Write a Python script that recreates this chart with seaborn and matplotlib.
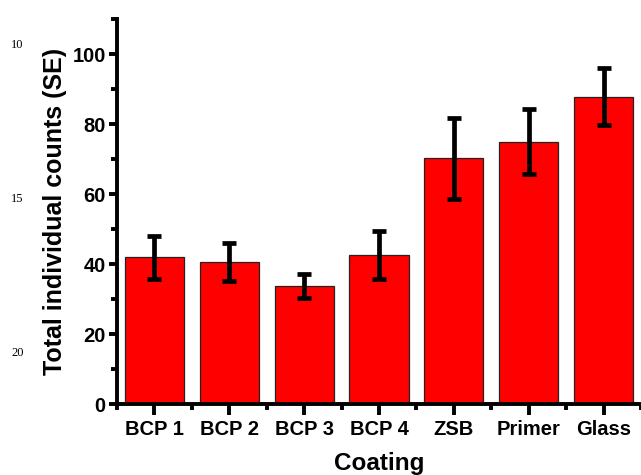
import matplotlib
matplotlib.use("Agg")
import matplotlib.pyplot as plt
from matplotlib.ticker import MultipleLocator, FixedLocator
import seaborn as sns
import pandas as pd

categories = ["BCP 1", "BCP 2", "BCP 3", "BCP 4", "ZSB", "Primer", "Glass"]
means = [42.0, 40.6, 33.8, 42.6, 70.2, 75.0, 87.8]
errors = [6.1, 5.4, 3.4, 6.8, 11.5, 9.2, 8.1]
yticks = [0, 20, 40, 60, 80, 100]
margin_numbers = ["10", "15", "20"]

sns.set_theme(style="ticks")
plt.rcParams["font.family"] = ["Liberation Sans", "DejaVu Sans"]
plt.rcParams["font.weight"] = "bold"
for k in ["text.color", "axes.labelcolor", "xtick.color", "ytick.color", "axes.edgecolor"]:
    plt.rcParams[k] = "black"

df = pd.DataFrame({"Coating": categories, "Count": means})

fig = plt.figure(figsize=(6.41, 4.75), dpi=100)
ax = fig.add_axes([0.1825, 0.149, 0.8175, 0.811])

sns.barplot(data=df, x="Coating", y="Count", color="#ff0000", saturation=1,
            edgecolor="#222222", linewidth=0.9, width=0.79, errorbar=None, ax=ax)
ax.errorbar(range(len(categories)), means, yerr=errors, fmt="none",
            ecolor="black", elinewidth=3.4, capsize=5, capthick=3.4,
            solid_capstyle="round", dash_capstyle="round")

ax.set_xlim(-0.5, 6.5)
ax.set_ylim(0, 110)
ax.set_yticks(yticks)
ax.yaxis.set_minor_locator(MultipleLocator(10))
ax.xaxis.set_minor_locator(FixedLocator([i + 0.5 for i in range(-1, 7)]))

for s in ["top", "right"]:
    ax.spines[s].set_visible(False)
for s in ["left", "bottom"]:
    ax.spines[s].set_linewidth(2.8)
    ax.spines[s].set_color("black")

ax.tick_params(axis="both", which="major", direction="out", length=6, width=2.8,
               color="black", labelcolor="black", labelsize=14.5, pad=2)
ax.tick_params(axis="both", which="minor", direction="out", length=4, width=2.8,
               color="black")
ax.tick_params(axis="x", which="major", length=8, labelsize=14.5, pad=3)
for lab in ax.get_xticklabels() + ax.get_yticklabels():
    lab.set_fontweight("bold")

ax.set_xlabel("Coating", fontsize=17.5, fontweight="bold", labelpad=10, color="black")
ax.set_ylabel("Total individual counts (SE)", fontsize=18, fontweight="bold",
              labelpad=4, color="black")

for txt, ypix in zip(margin_numbers, [45, 199, 353]):
    fig.text(11 / 641, 1 - ypix / 475, txt, fontsize=9, family="Liberation Serif",
             fontweight="normal", va="center", ha="left", color="black")

fig.savefig("out.png", dpi=100)
